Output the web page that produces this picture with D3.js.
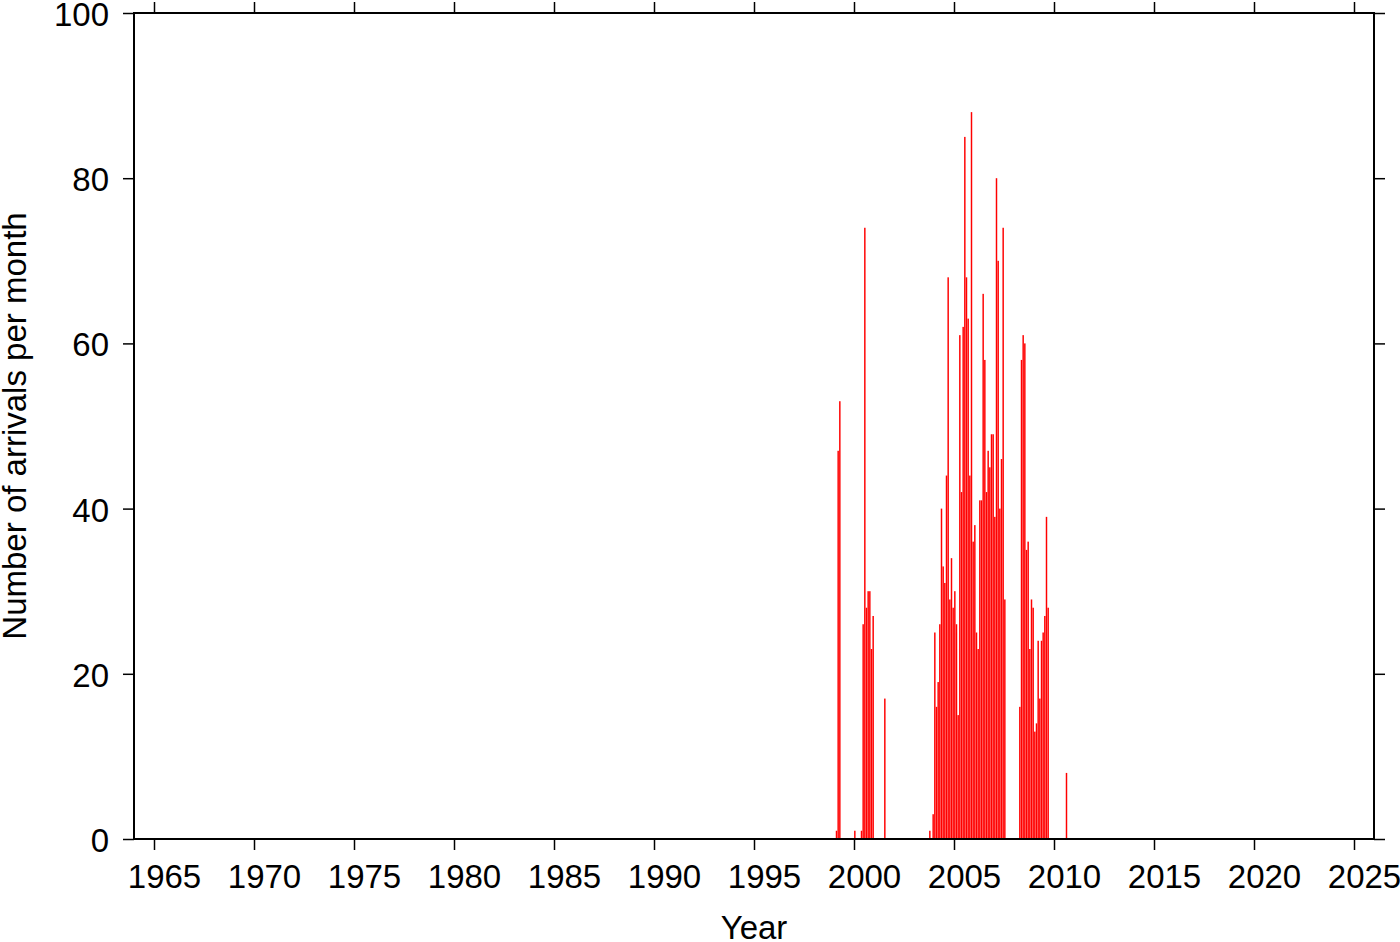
<!DOCTYPE html>
<html>
<head>
<meta charset="utf-8">
<script src="https://cdn.jsdelivr.net/npm/d3@7"></script>
<style>
  html, body { margin: 0; padding: 0; background: #fff; }
  svg { display: block; }
  text { font-family: "Liberation Sans", Arial, Helvetica, sans-serif; fill: #000; }
</style>
</head>
<body>
<svg id="chart" width="1400" height="942"></svg>
<script>
// Monthly arrival counts (year-month -> count); months not listed are zero
const months = [
  "1999-02","1999-03","1999-04",
  "2000-01","2000-05","2000-06","2000-07","2000-08","2000-09","2000-10","2000-11","2000-12",
  "2001-07",
  "2003-10","2003-12",
  "2004-01","2004-02","2004-03","2004-04","2004-05","2004-06","2004-07","2004-08","2004-09","2004-10","2004-11","2004-12",
  "2005-01","2005-02","2005-03","2005-04","2005-05","2005-06","2005-07","2005-08","2005-09","2005-10","2005-11","2005-12",
  "2006-01","2006-02","2006-03","2006-04","2006-05","2006-06","2006-07","2006-08","2006-09","2006-10","2006-11","2006-12",
  "2007-01","2007-02","2007-03","2007-04","2007-05","2007-06","2007-07",
  "2008-04","2008-05","2008-06","2008-07","2008-08","2008-09","2008-10","2008-11","2008-12",
  "2009-01","2009-02","2009-03","2009-04","2009-05","2009-06","2009-07","2009-08","2009-09",
  "2010-08"
];
const counts = [
  1, 47, 53,
  1, 1, 26, 74, 28, 30, 30, 23, 27,
  17,
  1, 3,
  25, 16, 19, 26, 40, 33, 31, 44, 68, 29, 34, 28,
  30, 26, 15, 61, 42, 62, 85, 68, 63, 44, 88, 36,
  38, 25, 23, 41, 41, 66, 58, 42, 47, 45, 49, 49,
  39, 80, 70, 40, 46, 74, 29,
  16, 58, 61, 60, 35, 36, 23, 29, 28,
  13, 14, 24, 17, 24, 25, 27, 39, 28,
  8
];
const xTicks = [1965, 1970, 1975, 1980, 1985, 1990, 1995, 2000, 2005, 2010, 2015, 2020, 2025];
const yTicks = [0, 20, 40, 60, 80, 100];
const xDomain = [1964, 2026];
const yDomain = [0, 100];
const xTitle = "Year";
const yTitle = "Number of arrivals per month";

(function () {
  const data = months.map((m, i) => {
    const [yr, mo] = m.split("-").map(Number);
    return { year: yr, month: mo, count: counts[i] };
  });

  const svg = d3.select("#chart");
  const pLeft = 134, pRight = 1374, pTop = 13, pBottom = 839;

  const x = d3.scaleLinear().domain(xDomain).range([pLeft, pRight]);
  const y = d3.scaleLinear().domain(yDomain).range([pBottom, pTop]);

  const fontSize = 33;
  const fontFam = "'Liberation Sans', Arial, Helvetica, sans-serif";

  // Bars
  svg.append("g")
    .selectAll("rect")
    .data(data)
    .join("rect")
    .attr("x", d => x(d.year + (d.month - 1) / 12) + 0.1)
    .attr("width", d => x(d.year + d.month / 12) - x(d.year + (d.month - 1) / 12) - 0.2)
    .attr("y", d => y(d.count))
    .attr("height", d => y(0) - y(d.count))
    .attr("fill", "#ff0000");

  // Axes (ticks outward on all four sides)
  const axisBottom = d3.axisBottom(x).tickValues(xTicks).tickFormat(d3.format("d"))
    .tickSizeInner(11).tickSizeOuter(0);
  const axisTop = d3.axisTop(x).tickValues(xTicks).tickFormat("")
    .tickSizeInner(11).tickSizeOuter(0);
  const axisLeft = d3.axisLeft(y).tickValues(yTicks).tickFormat(d3.format("d"))
    .tickSizeInner(11).tickSizeOuter(0).tickPadding(14);
  const axisRight = d3.axisRight(y).tickValues(yTicks).tickFormat("")
    .tickSizeInner(11).tickSizeOuter(0);

  function styleAxis(g) {
    g.select(".domain").remove();
    g.selectAll(".tick line").attr("stroke", "#000").attr("stroke-width", 1.5);
    g.selectAll(".tick text").attr("font-size", fontSize)
      .attr("font-family", fontFam)
      .attr("fill", "#000");
  }

  svg.append("g").attr("transform", `translate(0,${pBottom})`).call(axisBottom).call(styleAxis)
    .selectAll(".tick text").attr("y", 49).attr("dy", 0).attr("dx", 10);
  svg.append("g").attr("transform", `translate(0,${pTop})`).call(axisTop).call(styleAxis);
  svg.append("g").attr("transform", `translate(${pLeft},0)`).call(axisLeft).call(styleAxis)
    .selectAll(".tick text").attr("dy", "0.38em");
  svg.append("g").attr("transform", `translate(${pRight},0)`).call(axisRight).call(styleAxis);

  // Frame
  svg.append("rect")
    .attr("x", pLeft).attr("y", pTop)
    .attr("width", pRight - pLeft).attr("height", pBottom - pTop)
    .attr("fill", "none").attr("stroke", "#000").attr("stroke-width", 2);

  // Titles
  svg.append("text")
    .attr("x", (pLeft + pRight) / 2).attr("y", 939)
    .attr("text-anchor", "middle").attr("font-size", fontSize)
    .attr("font-family", fontFam)
    .text(xTitle);

  svg.append("text")
    .attr("transform", `translate(26,${(pTop + pBottom) / 2}) rotate(-90)`)
    .attr("text-anchor", "middle").attr("font-size", fontSize)
    .attr("font-family", fontFam)
    .text(yTitle);
})();
</script>
</body>
</html>
